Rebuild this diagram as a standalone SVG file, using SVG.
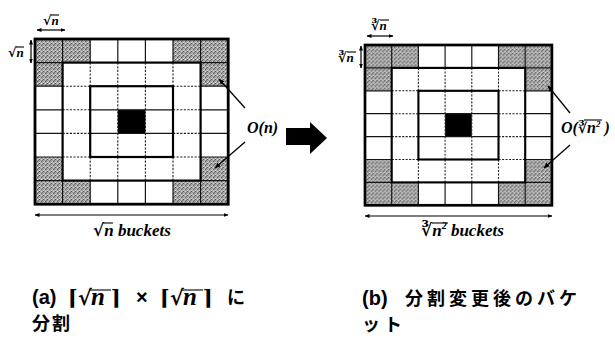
<svg xmlns="http://www.w3.org/2000/svg" xmlns:xlink="http://www.w3.org/1999/xlink" width="615" height="338" viewBox="0 0 615 338">
<style>
.thin{stroke:#151515;stroke-width:1.2;fill:none}
.dash{stroke:#222;stroke-width:1.1;stroke-dasharray:2.2 1.4;fill:none}
.thick{stroke:#000;stroke-width:2.2;fill:none}
.outer{stroke:#000;stroke-width:2.8;fill:none}
.shade{fill:url(#speckle)}
.dim{stroke:#000;stroke-width:1.2;fill:none;marker-start:url(#ah);marker-end:url(#ah)}
.lead{stroke:#000;stroke-width:1.3;fill:none;marker-end:url(#ah2)}
.ol{stroke:#000;stroke-width:1.1}
.lbl{font-family:"Liberation Serif","DejaVu Serif",serif;font-style:italic;font-weight:bold;fill:#000}
.rad{font-family:"DejaVu Serif","Liberation Serif",serif;font-weight:bold;font-style:normal}
.big{font-family:"Liberation Serif","DejaVu Serif",serif;font-style:italic;font-weight:bold;font-size:16px;fill:#000}
.cap{font-family:"Noto Sans CJK JP","Liberation Sans",sans-serif;font-weight:bold;font-size:18px;fill:#000}
.lat{font-family:"Liberation Sans","Noto Sans CJK JP",sans-serif;font-weight:bold;font-size:20px}
.capm{font-family:"DejaVu Serif","Liberation Serif",serif;font-weight:bold;font-size:21px}
.mi{font-family:"Liberation Serif",serif;font-style:italic;font-weight:bold;font-size:25px}
</style>
<defs>
<pattern id="speckle" width="4" height="4" patternUnits="userSpaceOnUse">
<rect width="4" height="4" fill="#a3a3a3"/>
<rect x="0" y="0" width="1" height="1" fill="#505050"/>
<rect x="2" y="2" width="1" height="1" fill="#5a5a5a"/>
<rect x="2" y="0" width="1" height="1" fill="#d8d8d8"/>
<rect x="0" y="3" width="1" height="1" fill="#dcdcdc"/>
<rect x="3" y="1" width="1" height="1" fill="#737373"/>
<rect x="1" y="2" width="1" height="1" fill="#c4c4c4"/>
</pattern>
<marker id="ah" viewBox="0 0 10 10" refX="9" refY="5" markerWidth="5" markerHeight="5" orient="auto-start-reverse" markerUnits="userSpaceOnUse"><path d="M0,1 L10,5 L0,9 z" fill="#000"/></marker>
<marker id="ah2" viewBox="0 0 10 10" refX="9" refY="5" markerWidth="6" markerHeight="6" orient="auto" markerUnits="userSpaceOnUse"><path d="M0,1 L10,5 L0,9 z" fill="#000"/></marker>
<g id="grid">
<g class="shade">
<rect x="0" y="0" width="27.6" height="23.6"/><rect x="27.6" y="0" width="27.6" height="23.6"/>
<rect x="138" y="0" width="27.6" height="23.6"/><rect x="165.6" y="0" width="27.6" height="23.6"/>
<rect x="0" y="23.6" width="27.6" height="23.6"/><rect x="165.6" y="23.6" width="27.6" height="23.6"/>
<rect x="0" y="118" width="27.6" height="23.6"/><rect x="165.6" y="118" width="27.6" height="23.6"/>
<rect x="0" y="141.6" width="27.6" height="23.6"/><rect x="27.6" y="141.6" width="27.6" height="23.6"/>
<rect x="138" y="141.6" width="27.6" height="23.6"/><rect x="165.6" y="141.6" width="27.6" height="23.6"/>
</g>
<rect x="82.8" y="70.8" width="27.6" height="23.6" fill="#000"/>
<path class="thin" d="M27.6 0V23.6M55.2 0V23.6M82.8 0V23.6M110.4 0V23.6M138 0V23.6M165.6 0V23.6M27.6 141.6V165.2M55.2 141.6V165.2M82.8 141.6V165.2M110.4 141.6V165.2M138 141.6V165.2M165.6 141.6V165.2M0 23.6H27.6M0 47.2H27.6M0 70.8H27.6M0 94.4H27.6M0 118H27.6M0 141.6H27.6M165.6 23.6H193.2M165.6 47.2H193.2M165.6 70.8H193.2M165.6 94.4H193.2M165.6 118H193.2M165.6 141.6H193.2M55.2 70.8H138M55.2 94.4H138"/>
<path class="dash" d="M55.2 23.6V47.2M82.8 23.6V47.2M110.4 23.6V47.2M138 23.6V47.2M55.2 118V141.6M82.8 118V141.6M110.4 118V141.6M138 118V141.6M27.6 47.2H55.2M27.6 70.8H55.2M27.6 94.4H55.2M27.6 118H55.2M138 47.2H165.6M138 70.8H165.6M138 94.4H165.6M138 118H165.6M82.8 47.2V118M110.4 47.2V118"/>
<rect class="thick" x="27.6" y="23.6" width="138" height="118"/>
<rect class="thick" x="55.2" y="47.2" width="82.8" height="70.8"/>
<rect class="outer" x="0" y="0" width="193.2" height="165.2"/>
</g>
</defs>

<g id="grid-a"><use xlink:href="#grid" href="#grid" x="35" y="39"/></g>
<g id="grid-b"><use xlink:href="#grid" href="#grid" transform="translate(365,45) scale(0.9674,0.9703)"/></g>

<g id="transform-arrow">
<polygon points="286,128 310,128 310,122 327,138 310,154 310,145 286,145" fill="#000"/>
</g>

<g id="connectors">
<line class="dim" x1="37" y1="30" x2="65" y2="30"/>
<line class="dim" x1="31" y1="40" x2="31" y2="63"/>
<line class="dim" x1="35" y1="215" x2="228" y2="215"/>
<line class="dim" x1="367" y1="36" x2="393" y2="36"/>
<line class="dim" x1="361" y1="46" x2="361" y2="68"/>
<line class="dim" x1="365" y1="216" x2="552" y2="216"/>
<line class="lead" x1="245" y1="108" x2="219" y2="79"/>
<line class="lead" x1="245" y1="142" x2="215" y2="168"/>
<line class="lead" x1="570" y1="113" x2="548" y2="86"/>
<line class="lead" x1="570" y1="145" x2="544" y2="168"/>
</g>

<g id="label-a-top"><text class="lbl" x="43" y="25" font-size="13"><tspan class="rad">√</tspan>n</text><line class="ol" x1="51" y1="15" x2="59" y2="15"/></g>
<g id="label-a-left"><text class="lbl" x="8" y="57" font-size="13"><tspan class="rad">√</tspan>n</text><line class="ol" x1="16" y1="47" x2="24" y2="47"/></g>
<g id="label-a-bottom"><text class="lbl" x="93" y="236" font-size="17"><tspan class="rad">√</tspan>n buckets</text><line class="ol" x1="103" y1="223" x2="113" y2="223"/></g>
<g id="label-On"><text class="big" x="247" y="133">O(n)</text></g>

<g id="label-b-top"><text class="lbl" x="371" y="30" font-size="13"><tspan class="rad">∛</tspan>n</text><line class="ol" x1="380" y1="20" x2="389" y2="20"/></g>
<g id="label-b-left"><text class="lbl" x="338" y="62" font-size="13"><tspan class="rad">∛</tspan>n</text><line class="ol" x1="347" y1="52" x2="356" y2="52"/></g>
<g id="label-b-bottom"><text class="lbl" x="421" y="236" font-size="17"><tspan class="rad">∛</tspan>n<tspan font-size="10" dy="-7">2</tspan><tspan dy="7"> buckets</tspan></text><line class="ol" x1="432" y1="223" x2="448" y2="223"/></g>
<g id="label-On2"><text class="big" x="561" y="133">O(<tspan class="rad" font-weight="normal" font-size="14">∛</tspan>n<tspan font-size="9" dy="-6">2</tspan><tspan dy="6"> )</tspan></text><line class="ol" x1="584" y1="120" x2="602" y2="120"/></g>

<g id="caption-a">
<text class="cap"><tspan class="lat" x="32" y="304">(a)</tspan><tspan class="capm" x="68" y="305">⌈√</tspan><tspan class="mi" x="91" y="305">n</tspan><tspan class="capm" x="111" y="305">⌉</tspan><tspan class="lat" x="136" y="304">×</tspan><tspan class="capm" x="160" y="305">⌈√</tspan><tspan class="mi" x="183" y="305">n</tspan><tspan class="capm" x="203" y="305">⌉</tspan><tspan x="227" y="304">に</tspan><tspan x="32" y="330" letter-spacing="2">分割</tspan></text>
<line class="ol" x1="89" y1="290" x2="111" y2="290" stroke-width="1.5"/>
<line class="ol" x1="181" y1="290" x2="203" y2="290" stroke-width="1.5"/>
</g>

<g id="caption-b">
<text class="cap"><tspan class="lat" x="362" y="305">(b)</tspan><tspan x="405" y="305" letter-spacing="4">分割変更後のバケ</tspan><tspan x="362" y="331" letter-spacing="4">ット</tspan></text>
</g>
</svg>
